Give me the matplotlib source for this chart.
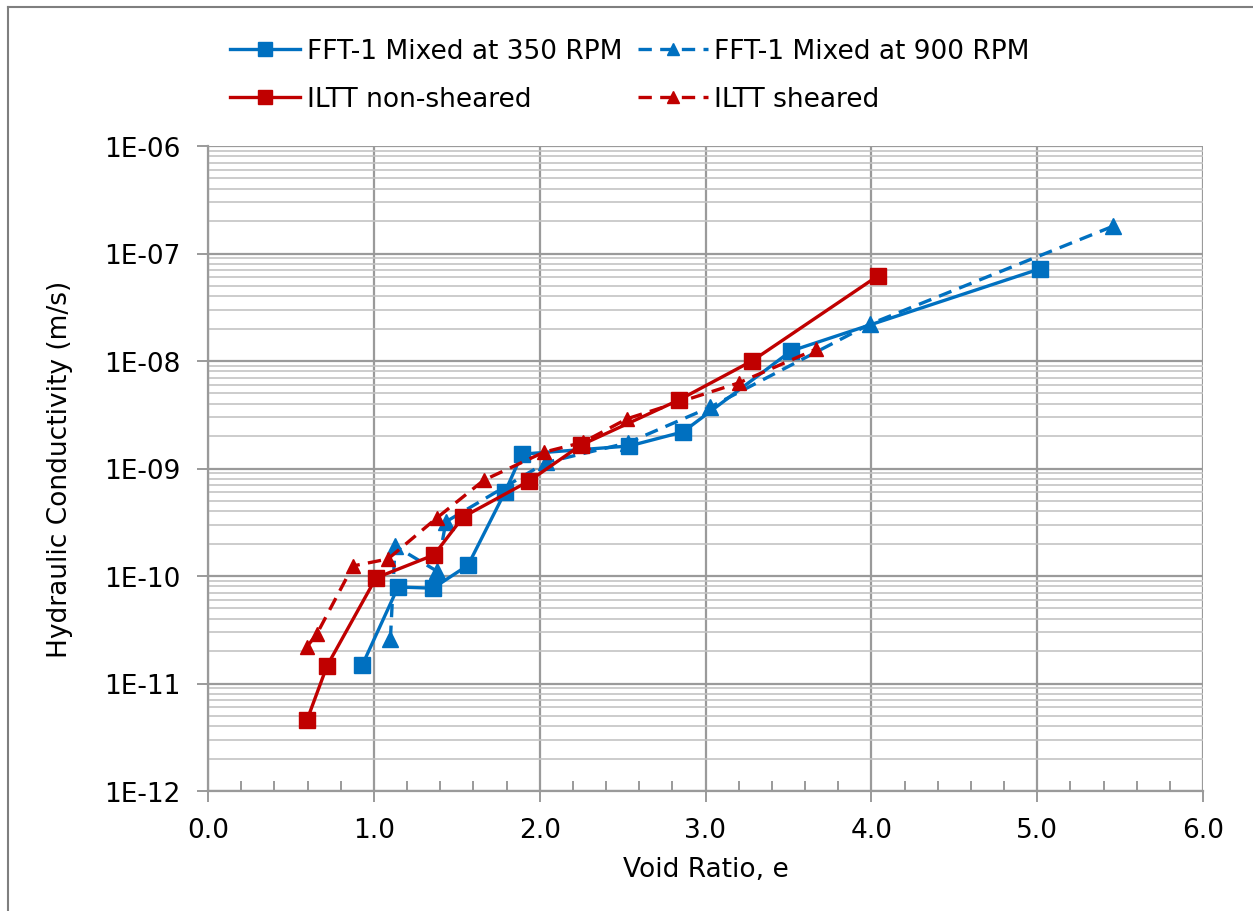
import matplotlib
matplotlib.use("Agg")
import matplotlib.pyplot as plt
from matplotlib.ticker import FixedLocator, LogLocator, FuncFormatter, NullFormatter
from matplotlib.lines import Line2D
import numpy as np

# FFT-1 mixed at 350 RPM
e_350 = [0.93, 1.146, 1.357, 1.568, 1.79, 1.893, 2.54, 2.864, 3.516, 5.017]
k_350 = [1.48e-11, 7.9e-11, 7.7e-11, 1.26e-10, 6.0e-10, 1.36e-09, 1.62e-09, 2.19e-09, 1.24e-08, 7.2e-08]

# FFT-1 mixed at 900 RPM
e_900 = [1.10, 1.128, 1.38, 1.435, 2.04, 2.53, 3.03, 3.99, 5.46]
k_900 = [2.6e-11, 1.9e-10, 1.11e-10, 3.2e-10, 1.14e-09, 1.73e-09, 3.73e-09, 2.2e-08, 1.8e-07]

# ILTT non-sheared
e_ns = [0.597, 0.718, 1.013, 1.363, 1.538, 1.936, 2.249, 2.840, 3.28, 4.04]
k_ns = [4.57e-12, 1.46e-11, 9.6e-11, 1.57e-10, 3.54e-10, 7.65e-10, 1.65e-09, 4.34e-09, 1.0e-08, 6.2e-08]

# ILTT sheared
e_sh = [0.597, 0.657, 0.874, 1.085, 1.38, 1.664, 2.026, 2.26, 2.527, 3.20, 3.667]
k_sh = [2.2e-11, 2.9e-11, 1.24e-10, 1.44e-10, 3.47e-10, 7.8e-10, 1.42e-09, 1.75e-09, 2.9e-09, 6.25e-09, 1.29e-08]

labels = ["FFT-1 Mixed at 350 RPM", "FFT-1 Mixed at 900 RPM",
          "ILTT non-sheared", "ILTT sheared"]

BLUE = "#0070C0"
RED = "#C00000"
FS = 19

plt.rcParams["font.family"] = ["DejaVu Sans"]

fig = plt.figure(figsize=(12.53, 9.12), dpi=100)

# chart-area frame (left and top edges lie inside the image)
bx, by = 8 / 1253, 1 - 8 / 912
fig.add_artist(Line2D([bx, bx], [0, by], transform=fig.transFigure,
                      color="#7f7f7f", linewidth=1.5))
fig.add_artist(Line2D([bx, 1], [by, by], transform=fig.transFigure,
                      color="#7f7f7f", linewidth=1.5))

ax = fig.add_axes([208 / 1253, 1 - 792 / 912, (1203 - 208) / 1253, (792 - 147) / 912])
ax.set_yscale("log")
ax.set_xlim(0, 6)
ax.set_ylim(1e-12, 1e-6)

ax.xaxis.set_major_locator(FixedLocator(np.arange(0, 6.01, 1.0)))
ax.xaxis.set_minor_locator(FixedLocator([v for v in np.arange(0, 6.01, 0.2)
                                         if abs(v - round(v)) > 1e-6]))
ax.xaxis.set_major_formatter(FuncFormatter(lambda v, p: f"{v:.1f}"))
ax.yaxis.set_major_locator(LogLocator(base=10, numticks=20))
ax.yaxis.set_minor_locator(LogLocator(base=10, subs=np.arange(2, 10), numticks=20))
ax.yaxis.set_minor_formatter(NullFormatter())
ax.yaxis.set_major_formatter(FuncFormatter(lambda v, p: f"1E-{-int(round(np.log10(v))):02d}"))

ax.grid(True, which="major", axis="both", color="#9a9a9a", linewidth=1.6)
ax.grid(True, which="minor", axis="y", color="#c4c4c4", linewidth=1.2)
ax.set_axisbelow(True)

for s in ("top", "right"):
    ax.spines[s].set_visible(False)
for s in ("left", "bottom"):
    ax.spines[s].set_color("#9a9a9a")
    ax.spines[s].set_linewidth(1.6)

ax.tick_params(axis="both", which="major", direction="out", length=8, width=1.4,
               color="#9a9a9a", labelsize=FS, labelcolor="black")
ax.tick_params(axis="x", which="major", pad=11)
ax.tick_params(axis="y", which="major", pad=12)
ax.tick_params(axis="x", which="minor", direction="in", length=7, width=1.4, color="#9a9a9a")
ax.tick_params(axis="y", which="minor", length=0)

lw = 2.4
ax.plot(e_350, k_350, "-", color=BLUE, lw=lw, marker="s", ms=12, label=labels[0])
ax.plot(e_900, k_900, "--", color=BLUE, lw=lw, marker="^", ms=11, dashes=(4, 2.5), label=labels[1])
ax.plot(e_ns, k_ns, "-", color=RED, lw=lw, marker="s", ms=12, label=labels[2])
ax.plot(e_sh, k_sh, "--", color=RED, lw=lw, marker="^", ms=10, dashes=(4, 2.5), label=labels[3])

ax.set_xlabel("Void Ratio, e", fontsize=FS, labelpad=9)
ax.set_ylabel("Hydraulic Conductivity (m/s)", fontsize=FS, labelpad=22)

handles, labs = ax.get_legend_handles_labels()
order = [0, 2, 1, 3]
leg = fig.legend([handles[i] for i in order], [labs[i] for i in order],
                 ncol=2, loc="upper left", bbox_to_anchor=(230 / 1253, 1 - 39 / 912),
                 frameon=False, fontsize=FS, handlelength=2.65, handletextpad=0.25,
                 columnspacing=0.6, labelspacing=0.85, borderpad=0, borderaxespad=0,
                 markerscale=0.8)

fig.savefig("out.png", dpi=100)
